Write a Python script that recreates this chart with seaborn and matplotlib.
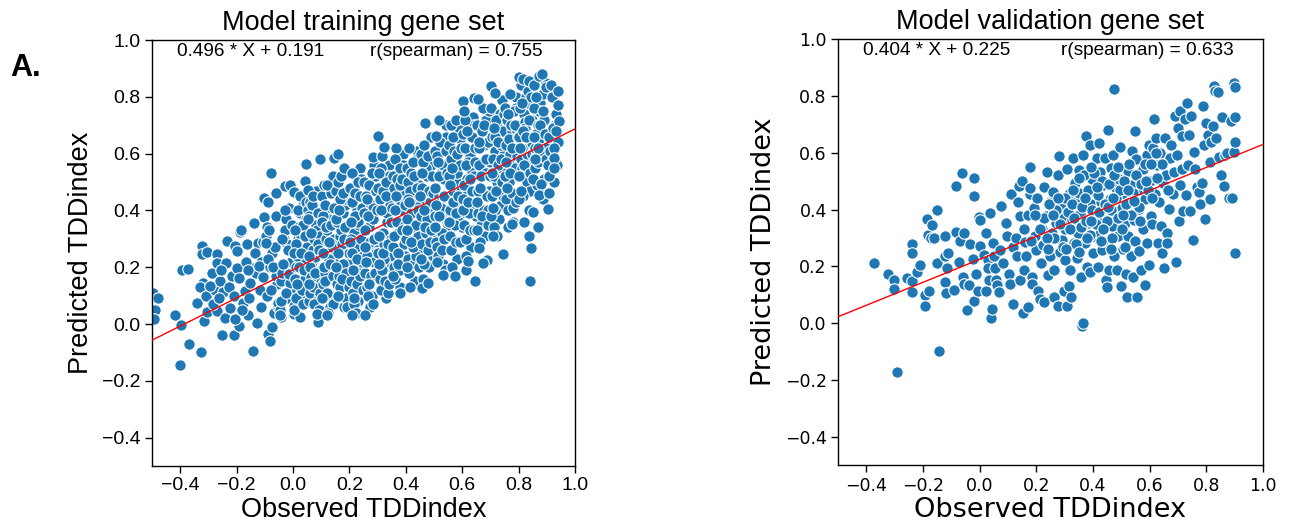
import matplotlib
matplotlib.use("Agg")
import matplotlib.pyplot as plt
import seaborn as sns
import pandas as pd

# ---------------- data ----------------
train_title = "Model training gene set"
valid_title = "Model validation gene set"
train_fit = (0.496, 0.191)      # slope, intercept
valid_fit = (0.404, 0.225)
train_rho = 0.755
valid_rho = 0.633
axis_ticks = [-0.4, -0.2, 0.0, 0.2, 0.4, 0.6, 0.8, 1.0]

# (observed, predicted) pairs, training gene set
train_points = [
    (-0.495, 0.110), (-0.490, 0.050), (-0.492, 0.016), (-0.478, 0.092), (-0.418, 0.033),
    (-0.397, -0.002), (-0.400, -0.146), (-0.392, 0.189), (-0.371, 0.195), (-0.369, -0.069),
    (-0.340, 0.074), (-0.326, -0.099), (-0.322, 0.273), (-0.322, 0.247), (-0.304, 0.253),
    (-0.318, 0.145), (-0.314, 0.012), (-0.306, 0.042), (-0.330, 0.130), (-0.310, 0.100),
    (-0.288, 0.180), (-0.270, 0.248), (-0.270, 0.215), (-0.276, 0.121), (-0.270, 0.045),
    (-0.253, -0.040), (-0.233, 0.291), (-0.236, 0.215), (-0.260, 0.150), (-0.249, 0.112),
    (-0.241, 0.022), (-0.223, 0.057), (-0.209, -0.040), (-0.205, 0.273), (-0.285, 0.070),
    (-0.262, 0.090), (-0.215, 0.170), (-0.228, 0.130), (-0.293, 0.135), (-0.255, 0.190),
    (-0.210, 0.100),
    (-0.193, -0.008), (-0.205, 0.016), (-0.197, 0.197), (-0.190, 0.162), (-0.197, 0.256),
    (-0.164, 0.283), (-0.188, 0.323), (-0.186, 0.330), (-0.161, 0.030), (-0.171, 0.115),
    (-0.153, 0.145), (-0.141, -0.096), (-0.129, 0.002), (-0.146, 0.197), (-0.124, 0.285),
    (-0.140, 0.354), (-0.178, 0.075), (-0.165, 0.220), (-0.155, 0.090), (-0.135, 0.250),
    (-0.130, 0.180), (-0.118, 0.120), (-0.115, 0.220), (-0.112, 0.060), (-0.105, 0.290),
    (-0.103, 0.376), (-0.108, 0.165), (-0.182, 0.050), (-0.158, 0.190), (-0.120, 0.205),
    (-0.104, 0.443), (-0.089, 0.429), (-0.078, 0.532), (-0.062, 0.461), (-0.089, -0.034),
    (-0.082, -0.061), (-0.073, -0.011),
    (-0.069, 0.040), (-0.093, 0.100), (-0.056, 0.140), (-0.082, 0.200), (-0.074, 0.250),
    (-0.097, 0.310), (-0.061, 0.170), (-0.088, 0.230), (-0.052, 0.060), (-0.078, 0.120),
    (-0.065, 0.270), (-0.091, 0.340), (-0.059, 0.380), (-0.085, 0.330), (-0.072, 0.200),
    (-0.054, 0.075), (-0.095, 0.285),
    (-0.042, 0.025), (-0.028, 0.485), (-0.012, 0.490),
    (-0.019, 0.090), (-0.043, 0.150), (-0.006, 0.220), (-0.032, 0.300), (-0.024, 0.370),
    (-0.047, 0.050), (-0.011, 0.120), (-0.038, 0.180), (-0.002, 0.255), (-0.028, 0.330),
    (-0.015, 0.410), (-0.041, 0.080), (-0.009, 0.145), (-0.035, 0.210), (-0.022, 0.280),
    (-0.004, 0.350), (-0.045, 0.030), (-0.017, 0.260), (-0.030, 0.400), (-0.039, 0.300),
    (-0.013, 0.175), (-0.026, 0.110),
    (0.005, 0.466), (0.005, 0.037), (0.026, 0.025), (0.045, 0.562), (0.042, 0.504),
    (0.031, 0.100), (0.007, 0.160), (0.044, 0.230), (0.018, 0.300), (0.026, 0.390),
    (0.003, 0.065), (0.039, 0.130), (0.012, 0.200), (0.048, 0.270), (0.022, 0.340),
    (0.035, 0.420), (0.009, 0.090), (0.041, 0.160), (0.015, 0.240), (0.028, 0.310),
    (0.046, 0.370), (0.005, 0.050), (0.033, 0.120), (0.020, 0.200), (0.011, 0.280),
    (0.037, 0.350), (0.024, 0.450), (0.002, 0.250),
    (0.013, 0.140), (0.038, 0.190), (0.027, 0.250), (0.006, 0.330), (0.043, 0.310),
    (0.019, 0.400), (0.034, 0.070), (0.047, 0.430),
    (0.081, 0.350), (0.057, 0.080), (0.094, 0.150), (0.068, 0.220), (0.076, 0.300),
    (0.053, 0.400), (0.089, 0.045), (0.062, 0.110), (0.098, 0.190), (0.072, 0.260),
    (0.085, 0.330), (0.059, 0.430), (0.091, 0.090), (0.065, 0.165), (0.078, 0.235),
    (0.096, 0.310), (0.055, 0.380), (0.083, 0.470), (0.070, 0.130), (0.061, 0.200),
    (0.087, 0.280), (0.074, 0.070), (0.052, 0.370), (0.093, 0.050), (0.066, 0.420),
    (0.054, 0.471), (0.097, 0.580), (0.089, 0.007), (0.084, 0.034),
    (0.058, 0.240), (0.079, 0.180), (0.092, 0.260), (0.064, 0.320), (0.088, 0.390),
    (0.071, 0.450), (0.095, 0.110), (0.056, 0.140),
    (0.131, 0.060), (0.107, 0.140), (0.144, 0.220), (0.118, 0.300), (0.126, 0.370),
    (0.103, 0.450), (0.139, 0.100), (0.112, 0.180), (0.148, 0.260), (0.122, 0.330),
    (0.135, 0.410), (0.109, 0.490), (0.141, 0.070), (0.115, 0.150), (0.128, 0.230),
    (0.146, 0.300), (0.105, 0.380), (0.133, 0.460), (0.120, 0.110), (0.111, 0.200),
    (0.137, 0.270), (0.124, 0.040), (0.102, 0.360), (0.143, 0.520), (0.116, 0.340),
    (0.130, 0.210), (0.120, 0.031), (0.145, 0.583),
    (0.108, 0.250), (0.127, 0.290), (0.142, 0.170), (0.114, 0.420), (0.136, 0.350),
    (0.121, 0.490), (0.147, 0.410), (0.104, 0.090),
    (0.181, 0.060), (0.157, 0.140), (0.194, 0.220), (0.168, 0.310), (0.176, 0.390),
    (0.153, 0.470), (0.189, 0.090), (0.162, 0.170), (0.198, 0.250), (0.172, 0.330),
    (0.185, 0.420), (0.159, 0.500), (0.191, 0.060), (0.165, 0.130), (0.178, 0.210),
    (0.196, 0.290), (0.155, 0.360), (0.183, 0.440), (0.170, 0.520), (0.161, 0.100),
    (0.187, 0.180), (0.174, 0.280), (0.152, 0.370), (0.193, 0.350), (0.166, 0.440),
    (0.180, 0.300), (0.160, 0.600), (0.181, 0.549),
    (0.158, 0.250), (0.173, 0.160), (0.186, 0.340), (0.164, 0.400), (0.192, 0.470),
    (0.177, 0.460), (0.151, 0.200), (0.197, 0.130),
    (0.231, 0.080), (0.207, 0.150), (0.244, 0.240), (0.218, 0.320), (0.226, 0.400),
    (0.203, 0.480), (0.239, 0.550), (0.212, 0.110), (0.248, 0.190), (0.222, 0.270),
    (0.235, 0.350), (0.209, 0.430), (0.241, 0.510), (0.215, 0.070), (0.228, 0.140),
    (0.246, 0.220), (0.205, 0.300), (0.233, 0.380), (0.220, 0.460), (0.211, 0.530),
    (0.237, 0.170), (0.224, 0.040), (0.202, 0.290), (0.243, 0.410), (0.216, 0.090),
    (0.230, 0.360), (0.208, 0.250), (0.208, 0.030),
    (0.213, 0.190), (0.226, 0.230), (0.242, 0.300), (0.219, 0.380), (0.236, 0.450),
    (0.204, 0.360), (0.249, 0.120), (0.229, 0.500),
    (0.281, 0.100), (0.257, 0.180), (0.294, 0.260), (0.268, 0.340), (0.276, 0.420),
    (0.253, 0.500), (0.289, 0.560), (0.262, 0.130), (0.298, 0.210), (0.272, 0.290),
    (0.285, 0.370), (0.259, 0.450), (0.291, 0.520), (0.265, 0.100), (0.278, 0.170),
    (0.296, 0.250), (0.255, 0.330), (0.283, 0.410), (0.270, 0.490), (0.261, 0.240),
    (0.287, 0.220), (0.274, 0.060), (0.252, 0.390), (0.293, 0.470), (0.266, 0.380),
    (0.256, 0.032), (0.283, 0.072), (0.283, 0.588),
    (0.258, 0.220), (0.271, 0.140), (0.286, 0.300), (0.263, 0.440), (0.279, 0.530),
    (0.297, 0.400), (0.254, 0.270), (0.290, 0.180),
    (0.331, 0.090), (0.307, 0.160), (0.344, 0.240), (0.318, 0.320), (0.326, 0.400),
    (0.303, 0.480), (0.339, 0.560), (0.312, 0.120), (0.348, 0.200), (0.322, 0.280),
    (0.335, 0.360), (0.309, 0.440), (0.341, 0.520), (0.315, 0.590), (0.328, 0.150),
    (0.346, 0.300), (0.305, 0.310), (0.333, 0.390), (0.320, 0.470), (0.311, 0.550),
    (0.337, 0.110), (0.324, 0.230), (0.302, 0.250), (0.343, 0.420), (0.316, 0.190),
    (0.330, 0.500), (0.300, 0.661), (0.323, 0.624),
    (0.306, 0.210), (0.319, 0.250), (0.336, 0.280), (0.313, 0.400), (0.329, 0.450),
    (0.347, 0.360), (0.304, 0.530), (0.342, 0.140),
    (0.381, 0.130), (0.357, 0.200), (0.394, 0.280), (0.368, 0.360), (0.376, 0.440),
    (0.353, 0.520), (0.389, 0.600), (0.362, 0.160), (0.398, 0.240), (0.372, 0.320),
    (0.385, 0.400), (0.359, 0.480), (0.391, 0.560), (0.365, 0.620), (0.378, 0.190),
    (0.396, 0.350), (0.355, 0.270), (0.383, 0.430), (0.370, 0.510), (0.361, 0.580),
    (0.387, 0.210), (0.374, 0.250), (0.352, 0.410), (0.393, 0.460), (0.366, 0.450),
    (0.380, 0.550), (0.381, 0.108),
    (0.358, 0.310), (0.371, 0.210), (0.386, 0.330), (0.363, 0.400), (0.379, 0.490),
    (0.397, 0.420), (0.354, 0.170), (0.388, 0.510),
    (0.431, 0.150), (0.407, 0.230), (0.444, 0.310), (0.418, 0.390), (0.426, 0.470),
    (0.403, 0.550), (0.439, 0.610), (0.412, 0.180), (0.448, 0.260), (0.422, 0.340),
    (0.435, 0.420), (0.409, 0.500), (0.441, 0.580), (0.415, 0.130), (0.428, 0.210),
    (0.446, 0.490), (0.405, 0.370), (0.433, 0.450), (0.420, 0.530), (0.411, 0.620),
    (0.437, 0.240), (0.424, 0.270), (0.402, 0.300), (0.443, 0.400), (0.416, 0.470),
    (0.430, 0.520), (0.408, 0.440),
    (0.404, 0.200), (0.419, 0.290), (0.436, 0.350), (0.413, 0.430), (0.427, 0.570),
    (0.447, 0.200), (0.406, 0.330), (0.439, 0.480),
    (0.481, 0.200), (0.457, 0.280), (0.494, 0.360), (0.468, 0.440), (0.476, 0.520),
    (0.453, 0.600), (0.489, 0.660), (0.462, 0.160), (0.498, 0.240), (0.472, 0.320),
    (0.485, 0.400), (0.459, 0.480), (0.491, 0.560), (0.465, 0.630), (0.478, 0.260),
    (0.496, 0.300), (0.455, 0.380), (0.483, 0.470), (0.470, 0.550), (0.461, 0.570),
    (0.487, 0.290), (0.474, 0.370), (0.452, 0.450), (0.493, 0.520), (0.466, 0.210),
    (0.458, 0.126), (0.479, 0.144), (0.469, 0.708),
    (0.454, 0.230), (0.469, 0.340), (0.486, 0.430), (0.463, 0.400), (0.477, 0.590),
    (0.497, 0.460), (0.458, 0.530), (0.491, 0.330),
    (0.531, 0.210), (0.507, 0.290), (0.544, 0.370), (0.518, 0.450), (0.526, 0.530),
    (0.503, 0.610), (0.539, 0.190), (0.512, 0.270), (0.548, 0.350), (0.522, 0.430),
    (0.535, 0.510), (0.509, 0.590), (0.541, 0.660), (0.515, 0.240), (0.528, 0.320),
    (0.546, 0.400), (0.505, 0.480), (0.533, 0.560), (0.520, 0.640), (0.511, 0.220),
    (0.537, 0.300), (0.524, 0.410), (0.502, 0.380), (0.543, 0.700), (0.516, 0.520),
    (0.519, 0.717), (0.506, 0.661), (0.533, 0.173),
    (0.504, 0.340), (0.519, 0.380), (0.536, 0.450), (0.513, 0.570), (0.527, 0.260),
    (0.547, 0.530), (0.508, 0.420), (0.541, 0.610),
    (0.581, 0.230), (0.557, 0.310), (0.594, 0.390), (0.568, 0.470), (0.576, 0.550),
    (0.553, 0.630), (0.589, 0.690), (0.562, 0.260), (0.598, 0.340), (0.572, 0.420),
    (0.585, 0.500), (0.559, 0.580), (0.591, 0.650), (0.565, 0.200), (0.578, 0.290),
    (0.596, 0.470), (0.555, 0.400), (0.583, 0.530), (0.570, 0.610), (0.561, 0.700),
    (0.587, 0.360), (0.574, 0.350), (0.552, 0.520), (0.593, 0.560), (0.566, 0.660),
    (0.580, 0.600), (0.577, 0.720), (0.576, 0.168),
    (0.554, 0.360), (0.569, 0.430), (0.586, 0.450), (0.563, 0.550), (0.577, 0.390),
    (0.597, 0.620), (0.558, 0.490), (0.591, 0.290),
    (0.631, 0.270), (0.607, 0.350), (0.644, 0.430), (0.618, 0.510), (0.626, 0.590),
    (0.603, 0.670), (0.639, 0.730), (0.612, 0.300), (0.648, 0.380), (0.622, 0.460),
    (0.635, 0.540), (0.609, 0.620), (0.641, 0.700), (0.615, 0.240), (0.628, 0.330),
    (0.646, 0.620), (0.605, 0.490), (0.633, 0.660), (0.620, 0.570), (0.611, 0.720),
    (0.637, 0.400), (0.624, 0.390), (0.602, 0.440), (0.643, 0.520), (0.616, 0.680),
    (0.602, 0.785), (0.641, 0.795), (0.614, 0.191), (0.645, 0.153), (0.621, 0.221),
    (0.604, 0.400), (0.619, 0.430), (0.636, 0.470), (0.613, 0.560), (0.627, 0.510),
    (0.647, 0.570), (0.608, 0.750), (0.641, 0.330),
    (0.681, 0.310), (0.657, 0.390), (0.694, 0.470), (0.668, 0.550), (0.676, 0.630),
    (0.653, 0.700), (0.689, 0.380), (0.662, 0.290), (0.698, 0.570), (0.672, 0.460),
    (0.685, 0.720), (0.659, 0.560), (0.691, 0.640), (0.665, 0.350), (0.678, 0.400),
    (0.696, 0.750), (0.655, 0.470), (0.683, 0.530), (0.670, 0.680), (0.661, 0.620),
    (0.687, 0.450), (0.674, 0.760), (0.652, 0.330), (0.693, 0.400), (0.666, 0.520),
    (0.657, 0.791), (0.661, 0.266), (0.688, 0.227), (0.675, 0.215),
    (0.654, 0.430), (0.669, 0.380), (0.686, 0.580), (0.663, 0.480), (0.677, 0.700),
    (0.697, 0.520), (0.658, 0.640), (0.691, 0.350),
    (0.731, 0.370), (0.707, 0.450), (0.744, 0.530), (0.718, 0.610), (0.726, 0.690),
    (0.703, 0.760), (0.739, 0.420), (0.712, 0.340), (0.748, 0.600), (0.722, 0.500),
    (0.735, 0.740), (0.709, 0.580), (0.741, 0.790), (0.715, 0.400), (0.728, 0.560),
    (0.746, 0.680), (0.705, 0.660), (0.733, 0.470), (0.720, 0.720), (0.711, 0.520),
    (0.737, 0.630), (0.724, 0.310), (0.702, 0.380), (0.743, 0.450), (0.716, 0.660),
    (0.703, 0.838), (0.715, 0.812), (0.709, 0.310), (0.746, 0.248),
    (0.704, 0.530), (0.719, 0.470), (0.736, 0.580), (0.713, 0.690), (0.727, 0.640),
    (0.747, 0.740), (0.708, 0.410), (0.741, 0.500),
    (0.781, 0.360), (0.757, 0.440), (0.794, 0.520), (0.768, 0.600), (0.776, 0.680),
    (0.753, 0.760), (0.789, 0.800), (0.762, 0.400), (0.798, 0.460), (0.772, 0.560),
    (0.785, 0.640), (0.759, 0.720), (0.791, 0.760), (0.765, 0.500), (0.778, 0.460),
    (0.796, 0.590), (0.755, 0.630), (0.783, 0.750), (0.770, 0.810), (0.761, 0.340),
    (0.787, 0.550), (0.774, 0.700), (0.752, 0.520), (0.793, 0.680), (0.766, 0.650),
    (0.780, 0.410), (0.776, 0.352),
    (0.754, 0.570), (0.769, 0.530), (0.786, 0.700), (0.763, 0.740), (0.777, 0.620),
    (0.797, 0.660), (0.758, 0.480), (0.791, 0.430),
    (0.831, 0.500), (0.807, 0.580), (0.844, 0.660), (0.818, 0.740), (0.826, 0.800),
    (0.803, 0.660), (0.839, 0.470), (0.812, 0.550), (0.848, 0.630), (0.822, 0.710),
    (0.835, 0.780), (0.809, 0.840), (0.841, 0.570), (0.815, 0.450), (0.828, 0.600),
    (0.846, 0.720), (0.805, 0.760), (0.833, 0.820), (0.820, 0.360), (0.811, 0.620),
    (0.837, 0.400), (0.824, 0.690), (0.802, 0.520), (0.843, 0.800), (0.816, 0.680),
    (0.800, 0.871), (0.817, 0.863), (0.837, 0.857), (0.803, 0.441), (0.840, 0.151),
    (0.844, 0.269), (0.837, 0.310),
    (0.804, 0.620), (0.819, 0.560), (0.836, 0.720), (0.813, 0.780), (0.827, 0.660),
    (0.847, 0.600), (0.808, 0.470), (0.841, 0.530),
    (0.881, 0.480), (0.857, 0.550), (0.894, 0.630), (0.868, 0.700), (0.876, 0.780),
    (0.853, 0.840), (0.889, 0.510), (0.862, 0.590), (0.898, 0.670), (0.872, 0.750),
    (0.885, 0.810), (0.859, 0.620), (0.891, 0.720), (0.865, 0.490), (0.878, 0.600),
    (0.896, 0.850), (0.855, 0.760), (0.883, 0.660), (0.870, 0.570), (0.861, 0.670),
    (0.887, 0.440), (0.874, 0.650), (0.852, 0.510),
    (0.851, 0.393), (0.867, 0.342), (0.871, 0.875), (0.884, 0.881), (0.878, 0.494),
    (0.871, 0.453), (0.898, 0.833),
    (0.854, 0.660), (0.869, 0.620), (0.886, 0.750), (0.863, 0.800), (0.877, 0.700),
    (0.897, 0.580), (0.858, 0.580), (0.892, 0.670),
    (0.921, 0.580), (0.907, 0.660), (0.934, 0.740), (0.918, 0.800), (0.926, 0.500),
    (0.903, 0.560), (0.929, 0.700), (0.912, 0.610), (0.938, 0.770), (0.922, 0.690),
    (0.935, 0.560), (0.909, 0.520), (0.941, 0.640), (0.915, 0.840), (0.906, 0.460),
    (0.905, 0.405), (0.938, 0.819), (0.943, 0.714), (0.932, 0.679), (0.925, 0.619),
    (0.925, 0.583), (0.925, 0.548),
]

# (observed, predicted) pairs, validation gene set
valid_points = [
    (-0.374, 0.211), (-0.323, 0.173), (-0.304, 0.154), (-0.304, 0.121), (-0.292, -0.170),
    (-0.257, 0.161), (-0.238, 0.280), (-0.237, 0.249), (-0.237, 0.149), (-0.239, 0.110),
    (-0.221, 0.180), (-0.209, 0.204), (-0.193, 0.098), (-0.193, 0.061), (-0.187, 0.368),
    (-0.181, 0.310), (-0.179, 0.115), (-0.168, 0.346), (-0.172, 0.300), (-0.162, 0.299),
    (-0.151, 0.399), (-0.151, 0.213), (-0.144, -0.096), (-0.124, 0.306), (-0.121, 0.235),
    (-0.124, 0.145), (-0.120, 0.106), (-0.110, 0.249), (-0.116, 0.193), (-0.092, 0.118),
    (-0.085, 0.482), (-0.083, 0.320), (-0.072, 0.217), (-0.069, 0.288), (-0.061, 0.529),
    (-0.058, 0.163), (-0.055, 0.318), (-0.055, 0.137), (-0.044, 0.046), (-0.039, 0.133),
    (-0.034, 0.280), (-0.025, 0.225), (-0.021, 0.449), (-0.021, 0.511), (-0.019, 0.077),
    (-0.014, 0.173), (-0.007, 0.113), (-0.003, 0.374), (0.000, 0.273), (0.003, 0.365),
    (0.014, 0.240), (0.021, 0.318), (0.021, 0.115), (0.028, 0.223), (0.030, 0.196),
    (0.034, 0.151), (0.037, 0.389), (0.039, 0.018), (0.045, 0.050), (0.048, 0.282),
    (0.052, 0.235), (0.055, 0.193), (0.058, 0.151), (0.062, 0.133), (0.069, 0.110),
    (0.072, 0.258), (0.076, 0.411), (0.083, 0.211), (0.094, 0.354), (0.096, 0.306),
    (0.103, 0.175), (0.107, 0.139), (0.110, 0.455), (0.117, 0.068), (0.118, 0.268),
    (0.127, 0.300), (0.131, 0.235), (0.135, 0.427), (0.138, 0.482), (0.143, 0.151),
    (0.144, 0.377), (0.151, 0.502), (0.154, 0.038), (0.158, 0.187), (0.158, 0.330),
    (0.160, 0.285), (0.165, 0.235), (0.169, 0.056), (0.172, 0.380), (0.176, 0.455),
    (0.179, 0.548), (0.179, 0.475), (0.184, 0.163), (0.186, 0.137), (0.193, 0.407),
    (0.195, 0.306), (0.199, 0.258), (0.204, 0.439), (0.206, 0.115), (0.213, 0.086),
    (0.217, 0.211), (0.220, 0.330), (0.223, 0.276), (0.227, 0.479), (0.227, 0.076),
    (0.234, 0.377), (0.238, 0.532), (0.241, 0.169), (0.248, 0.427), (0.250, 0.235),
    (0.254, 0.318), (0.259, 0.462), (0.261, 0.187), (0.264, 0.092), (0.268, 0.354),
    (0.275, 0.062), (0.278, 0.520), (0.279, 0.589), (0.282, 0.252), (0.286, 0.407),
    (0.289, 0.294), (0.296, 0.369), (0.296, 0.115), (0.303, 0.330), (0.303, 0.223),
    (0.309, 0.062), (0.309, 0.544), (0.314, 0.130), (0.316, 0.455), (0.320, 0.187),
    (0.323, 0.092), (0.327, 0.365), (0.330, 0.580), (0.333, 0.282), (0.337, 0.494),
    (0.340, 0.425), (0.344, 0.230), (0.347, 0.318), (0.351, 0.538), (0.355, 0.383),
    (0.358, 0.163), (0.362, -0.010), (0.365, 0.002), (0.365, 0.592), (0.369, 0.462),
    (0.371, 0.282), (0.374, 0.657), (0.378, 0.199), (0.382, 0.354), (0.388, 0.627),
    (0.389, 0.181), (0.392, 0.419), (0.396, 0.508), (0.399, 0.246), (0.402, 0.306),
    (0.406, 0.462), (0.410, 0.377), (0.413, 0.580), (0.417, 0.199), (0.420, 0.633),
    (0.424, 0.532), (0.426, 0.318), (0.429, 0.427), (0.433, 0.258), (0.437, 0.485),
    (0.440, 0.365), (0.443, 0.580), (0.447, 0.151), (0.451, 0.127), (0.454, 0.681),
    (0.454, 0.294), (0.457, 0.187), (0.461, 0.437), (0.465, 0.546), (0.468, 0.343),
    (0.472, 0.592), (0.475, 0.824), (0.475, 0.235), (0.479, 0.479), (0.481, 0.389),
    (0.484, 0.187), (0.488, 0.306), (0.492, 0.508), (0.495, 0.621), (0.498, 0.130),
    (0.502, 0.407), (0.506, 0.260), (0.509, 0.455), (0.513, 0.354), (0.516, 0.175),
    (0.520, 0.092), (0.523, 0.536), (0.525, 0.306), (0.530, 0.425), (0.534, 0.235),
    (0.536, 0.488), (0.539, 0.606), (0.543, 0.163), (0.546, 0.365), (0.547, 0.288),
    (0.550, 0.677), (0.553, 0.578), (0.554, 0.092), (0.557, 0.517), (0.561, 0.401),
    (0.564, 0.254), (0.568, 0.470), (0.571, 0.187), (0.575, 0.330), (0.578, 0.544),
    (0.582, 0.133), (0.585, 0.437), (0.589, 0.592), (0.591, 0.282), (0.596, 0.627),
    (0.598, 0.205), (0.602, 0.500), (0.605, 0.377), (0.608, 0.348), (0.612, 0.615),
    (0.616, 0.720), (0.619, 0.455), (0.622, 0.651), (0.626, 0.558), (0.630, 0.282),
    (0.633, 0.425), (0.637, 0.598), (0.640, 0.342), (0.643, 0.246), (0.646, 0.494),
    (0.651, 0.193), (0.653, 0.651), (0.658, 0.520), (0.660, 0.318), (0.663, 0.282),
    (0.667, 0.401), (0.671, 0.580), (0.677, 0.627), (0.681, 0.455), (0.685, 0.532),
    (0.688, 0.729), (0.692, 0.217), (0.695, 0.592), (0.699, 0.687), (0.702, 0.360),
    (0.706, 0.488), (0.708, 0.746), (0.713, 0.544), (0.715, 0.657), (0.719, 0.395),
    (0.726, 0.717), (0.729, 0.450), (0.733, 0.776), (0.736, 0.556), (0.740, 0.663),
    (0.743, 0.395), (0.746, 0.729), (0.754, 0.292), (0.757, 0.604), (0.759, 0.544),
    (0.768, 0.479), (0.773, 0.461), (0.778, 0.419), (0.784, 0.494), (0.788, 0.764),
    (0.791, 0.627), (0.795, 0.368), (0.798, 0.705), (0.805, 0.663), (0.812, 0.437),
    (0.814, 0.568), (0.818, 0.639), (0.823, 0.693), (0.828, 0.836), (0.829, 0.818),
    (0.836, 0.651), (0.842, 0.812), (0.846, 0.586), (0.853, 0.520), (0.857, 0.725),
    (0.862, 0.482), (0.867, 0.592), (0.873, 0.598), (0.880, 0.439), (0.887, 0.711),
    (0.891, 0.439), (0.897, 0.604), (0.898, 0.844), (0.901, 0.832), (0.901, 0.725),
    (0.901, 0.639), (0.901, 0.249),
    (0.262, 0.300), (0.271, 0.400), (0.284, 0.350), (0.293, 0.270), (0.301, 0.440),
    (0.312, 0.390), (0.318, 0.330), (0.326, 0.420), (0.334, 0.370), (0.341, 0.280),
    (0.349, 0.460), (0.356, 0.340), (0.363, 0.410), (0.368, 0.520), (0.377, 0.360),
    (0.384, 0.470), (0.391, 0.310), (0.398, 0.400), (0.405, 0.530), (0.412, 0.350),
    (0.418, 0.450), (0.423, 0.390), (0.431, 0.500), (0.436, 0.290), (0.444, 0.420),
    (0.449, 0.360), (0.456, 0.490), (0.463, 0.400), (0.467, 0.300), (0.474, 0.520),
    (0.483, 0.440), (0.489, 0.370), (0.496, 0.470), (0.503, 0.330), (0.511, 0.500),
    (0.518, 0.420), (0.527, 0.560), (0.533, 0.380), (0.541, 0.460), (0.552, 0.520),
    (0.563, 0.410), (0.571, 0.490), (0.583, 0.560), (0.594, 0.470), (0.228, 0.370),
    (0.236, 0.300), (0.245, 0.420), (0.212, 0.330), (0.195, 0.380), (0.182, 0.290),
    (0.331, 0.470), (0.352, 0.250), (0.373, 0.440), (0.394, 0.360), (0.415, 0.480),
    (0.434, 0.330), (0.452, 0.410), (0.471, 0.440), (0.487, 0.550), (0.506, 0.380),
    (0.524, 0.470), (0.545, 0.430), (0.566, 0.360), (0.587, 0.500), (0.608, 0.440),
    (0.627, 0.510), (0.645, 0.560), (0.665, 0.470), (0.622, 0.600), (0.604, 0.560),
    (0.349, 0.510), (0.392, 0.550), (0.428, 0.290), (0.463, 0.260), (0.512, 0.270),
    (0.276, 0.440), (0.258, 0.380), (0.242, 0.260), (0.305, 0.260), (0.380, 0.300),
]

# ---------------- styling ----------------
sns.set_style("ticks")
plt.rcParams["font.family"] = ["Liberation Sans", "DejaVu Sans"]
plt.rcParams["axes.linewidth"] = 1.0
plt.rcParams["text.color"] = "black"
plt.rcParams["axes.labelcolor"] = "black"
plt.rcParams["xtick.color"] = "black"
plt.rcParams["ytick.color"] = "black"
plt.rcParams["axes.edgecolor"] = "black"

POINT_COLOR = "#1f77b4"
ARIAL = "Liberation Sans"
DEJAVU = "DejaVu Sans"

fig = plt.figure(figsize=(12.89, 5.28), dpi=100)
ax1 = fig.add_axes([0.1179, 0.1174, 0.3282, 0.8068])
ax2 = fig.add_axes([0.6501, 0.1184, 0.3297, 0.8078])


def draw_panel(ax, points, fit, rho, title, tick_font, tick_size, label_font, rho_x):
    df = pd.DataFrame(points, columns=["Observed TDDindex", "Predicted TDDindex"])
    sns.scatterplot(data=df, x="Observed TDDindex", y="Predicted TDDindex", ax=ax,
                    color=POINT_COLOR, s=68, edgecolor="white", linewidth=0.8, zorder=2)
    ax.set_xlim(-0.5, 1.0)
    ax.set_ylim(-0.5, 1.0)
    xs = pd.Series(ax.get_xlim())
    ax.plot(xs, fit[0] * xs + fit[1], color="red", lw=1.0, zorder=3)
    ax.set_xticks(axis_ticks)
    ax.set_yticks(axis_ticks)
    ax.set_xticklabels([f"{t:.1f}".replace("-", "\u2212") for t in axis_ticks],
                       fontfamily=tick_font, fontsize=tick_size, color="black")
    ax.set_yticklabels([f"{t:.1f}".replace("-", "\u2212") for t in axis_ticks],
                       fontfamily=tick_font, fontsize=tick_size, color="black")
    ax.tick_params(direction="out", length=5, width=1.0, colors="black", pad=3)
    for sp in ax.spines.values():
        sp.set_visible(True)
        sp.set_color("black")
        sp.set_linewidth(1.0)
    ax.set_xlabel("Observed TDDindex", fontfamily=label_font, fontsize=19.5,
                  labelpad=2, color="black")
    ax.set_ylabel("Predicted TDDindex", fontfamily=label_font, fontsize=19.5,
                  labelpad=6, color="black")
    ax.set_title(title, fontfamily=ARIAL, fontsize=19.5, pad=7, color="black")
    ax.text(0.059, 0.972, f"{fit[0]:.3f} * X + {fit[1]:.3f}", transform=ax.transAxes,
            fontfamily=ARIAL, fontsize=13.7, ha="left", va="center", color="black")
    ax.text(rho_x, 0.972, f"r(spearman) = {rho:.3f}",
            transform=ax.transAxes, fontfamily=ARIAL, fontsize=13.7, ha="left",
            va="center", color="black")


draw_panel(ax1, train_points, train_fit, train_rho, train_title, ARIAL, 14, ARIAL, 0.515)
draw_panel(ax2, valid_points, valid_fit, valid_rho, valid_title, DEJAVU, 12.5, DEJAVU, 0.525)

fig.text(0.008, 0.856, "A.", fontfamily=ARIAL, fontsize=22, fontweight="bold",
         ha="left", va="baseline", color="black")

fig.savefig("out.png", dpi=100)
